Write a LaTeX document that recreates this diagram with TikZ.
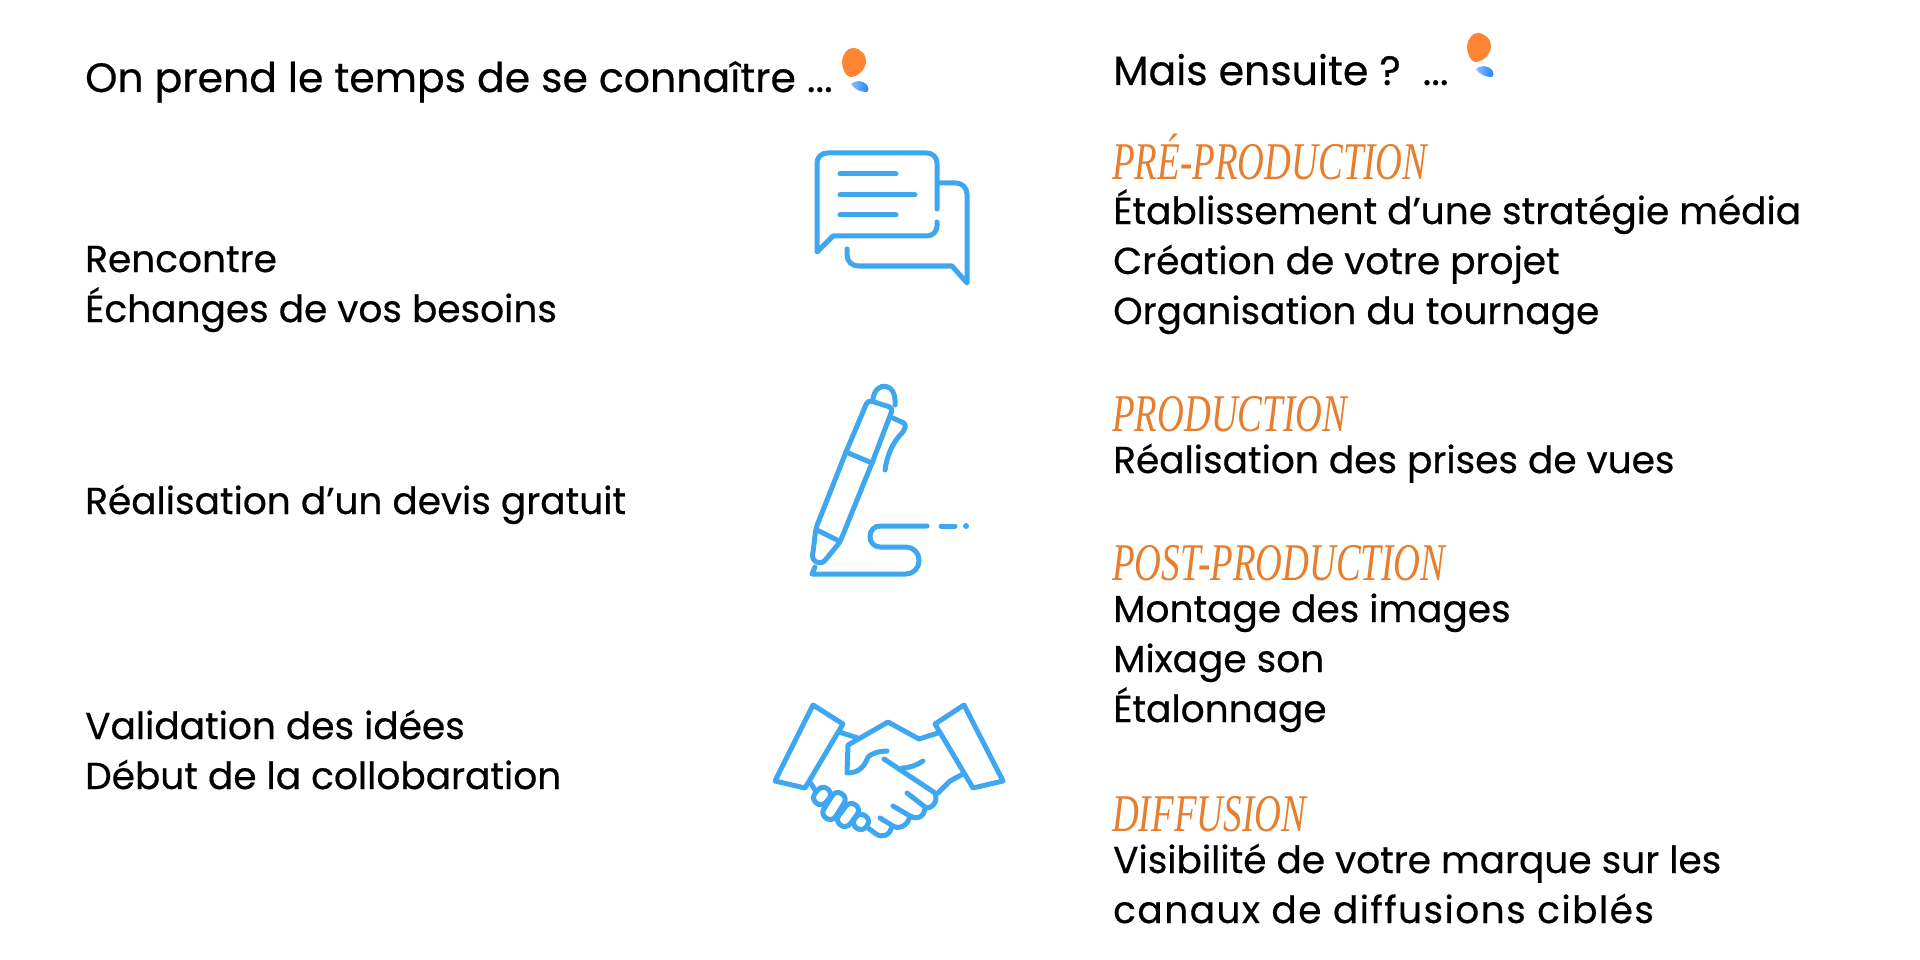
\documentclass[tikz,border=0pt]{standalone}
\usepackage{fontspec}
\setmainfont[FakeBold=.5]{Poppins}
\newfontfamily\titrefont[FakeStretch=.7]{Liberation Serif}
\definecolor{bleuicone}{HTML}{3FA7F0}
\definecolor{orangetitre}{HTML}{E67E2E}
\definecolor{orangegoutte}{HTML}{FF8533}
\tikzset{
	texte/.style={anchor=base west,inner sep=0pt,align=left,font=\fontsize{37.5}{50}\selectfont},
	entete/.style={anchor=base west,inner sep=0pt,font=\fontsize{41}{50}\selectfont},
	titre/.style={anchor=base west,inner sep=0pt,text=orangetitre,font=\titrefont\itshape\fontsize{53}{50}\selectfont},
	icone/.style={draw=bleuicone,line width=5pt,line cap=round,line join=round}
}
\begin{document}
\begin{tikzpicture}[x=1pt,y=-1pt]
	\useasboundingbox (0,0) rectangle (1920,960);
	% colonne gauche
	\node[entete] (prend) at (85,92) {On prend le temps de se connaître ...};
	\node[texte] (besoins) at (85,322) {Rencontre\\Échanges de vos besoins};
	\node[texte] (devis) at (85,514) {Réalisation d’un devis gratuit};
	\node[texte] (idees) at (85,789) {Validation des idées\\Début de la collobaration};
	% colonne droite
	\node[entete] (ensuite) at (1113,85) {Mais ensuite ?\ \ ...};
	\node[titre] (pre) at (1112,180) {PRÉ-PRODUCTION};
	\node[texte] (prelist) at (1113,324) {Établissement d’une stratégie média\\Création de votre projet\\Organisation du tournage};
	\node[titre] (prod) at (1112,431) {PRODUCTION};
	\node[texte] (prodlist) at (1113,473) {Réalisation des prises de vues};
	\node[titre] (post) at (1112,580) {POST-PRODUCTION};
	\node[texte] (postlist) at (1113,722) {Montage des images\\Mixage son\\Étalonnage};
	\node[titre] (diff) at (1112,831) {DIFFUSION};
	\node[texte] (difflist) at (1113,923) {Visibilité de votre marque sur les\\{\addfontfeature{LetterSpace=3.9}canaux de diffusions ciblés}};
	% gouttes
	\foreach \gx/\gy in {0/0,625/-15}{
		\fill[orangegoutte] (\gx+853,\gy+48) .. controls (\gx+860,\gy+48) and (\gx+867,\gy+55) .. (\gx+866,\gy+62) .. controls (\gx+865,\gy+71) and (\gx+857,\gy+77) .. (\gx+850,\gy+77) .. controls (\gx+845,\gy+76) and (\gx+842,\gy+68) .. (\gx+842,\gy+61) .. controls (\gx+843,\gy+54) and (\gx+847,\gy+48) .. (\gx+853,\gy+48) -- cycle;
		\shade[left color=cyan!45!blue!45,right color=blue!55!cyan!90] (\gx+851,\gy+84) .. controls (\gx+855,\gy+80) and (\gx+863,\gy+80) .. (\gx+867,\gy+85) .. controls (\gx+869,\gy+88) and (\gx+869,\gy+92) .. (\gx+866,\gy+92) .. controls (\gx+860,\gy+92) and (\gx+854,\gy+89) .. (\gx+851,\gy+84) -- cycle;
	}
	% bulles
	\draw[icone] (937,209) [rounded corners=10pt] -- (937,153) -- (817,153) [sharp corners] -- (817,252) -- (833,236) [rounded corners=10pt] -- (937,236) [sharp corners] -- (937,222);
	\draw[icone] (840,174) -- (896,174) (840,195) -- (915,195) (840,215) -- (896,215);
	\draw[icone] (939,183) [rounded corners=11pt] -- (967,183) [sharp corners] -- (967,283) -- (952,266) [rounded corners=11pt] -- (847,266) [sharp corners] -- (847,249);
	% stylo
	\draw[icone] (873,399) .. controls (875,381) and (897,381) .. (895,405);
	\draw[icone,rounded corners=4pt] (872,463) -- (893,408) -- (868,400) -- (846,452) -- (816,528) -- (812,560) -- (822,564) -- (840,542) -- cycle;
	\draw[icone] (846,452) -- (872,463) (817,530) -- (839,541);
	\draw[icone,rounded corners=3pt] (893,418) -- (906,424) -- (904,431) .. controls (893,442) and (887,455) .. (885,470);
	\draw[icone] (815,567) -- (812,574) [rounded corners=13pt] -- (919,574) -- (919,547) [sharp corners] -- (882,547) [rounded corners=10pt] -- (870,547) -- (870,526) [sharp corners] -- (927,526);
	\draw[icone] (941,526) -- (955,526);
	\fill[bleuicone] (966,526) circle (3pt);
	% poignee de main
	\draw[icone] (813,705) -- (843,724) -- (805,788) -- (775,781) -- cycle;
	\draw[icone] (964,705) -- (935,724) -- (973,788) -- (1003,781) -- cycle;
	\draw[icone] (839,732) -- (858,738);
	\draw[icone] (938,733) -- (919,739) -- (888,722) -- (848,745) -- (847,773) .. controls (860,773) and (865,765) .. (868,757) .. controls (872,753) and (880,751) .. (887,751);
	\draw[icone] (884,759) -- (935,793) .. controls (939,803) and (930,810) .. (925,807) -- (907,793);
	\draw[icone] (902,768) .. controls (910,768) and (917,765) .. (923,761);
	\draw[icone] (963,774) -- (950,781) -- (938,793);
	\draw[icone] (925,807) .. controls (925,818) and (915,820) .. (910,816) -- (893,806);
	\draw[icone] (910,816) .. controls (908,825) and (900,830) .. (893,826) -- (880,818);
	\draw[icone] (892,826) .. controls (890,836) and (882,838) .. (876,834) -- (868,828);
	\draw[icone] (810,782) -- (815,790);
	\foreach \cx/\cy/\lon/\ang in {822/796/18/50,834/806/29/58,848/815/25/53,861/822/15/55}{
		\draw[icone,rotate around={\ang:(\cx,\cy)},rounded corners=6.5pt] (\cx-\lon/2,\cy-7) rectangle (\cx+\lon/2,\cy+7);
	}
\end{tikzpicture}
\end{document}
